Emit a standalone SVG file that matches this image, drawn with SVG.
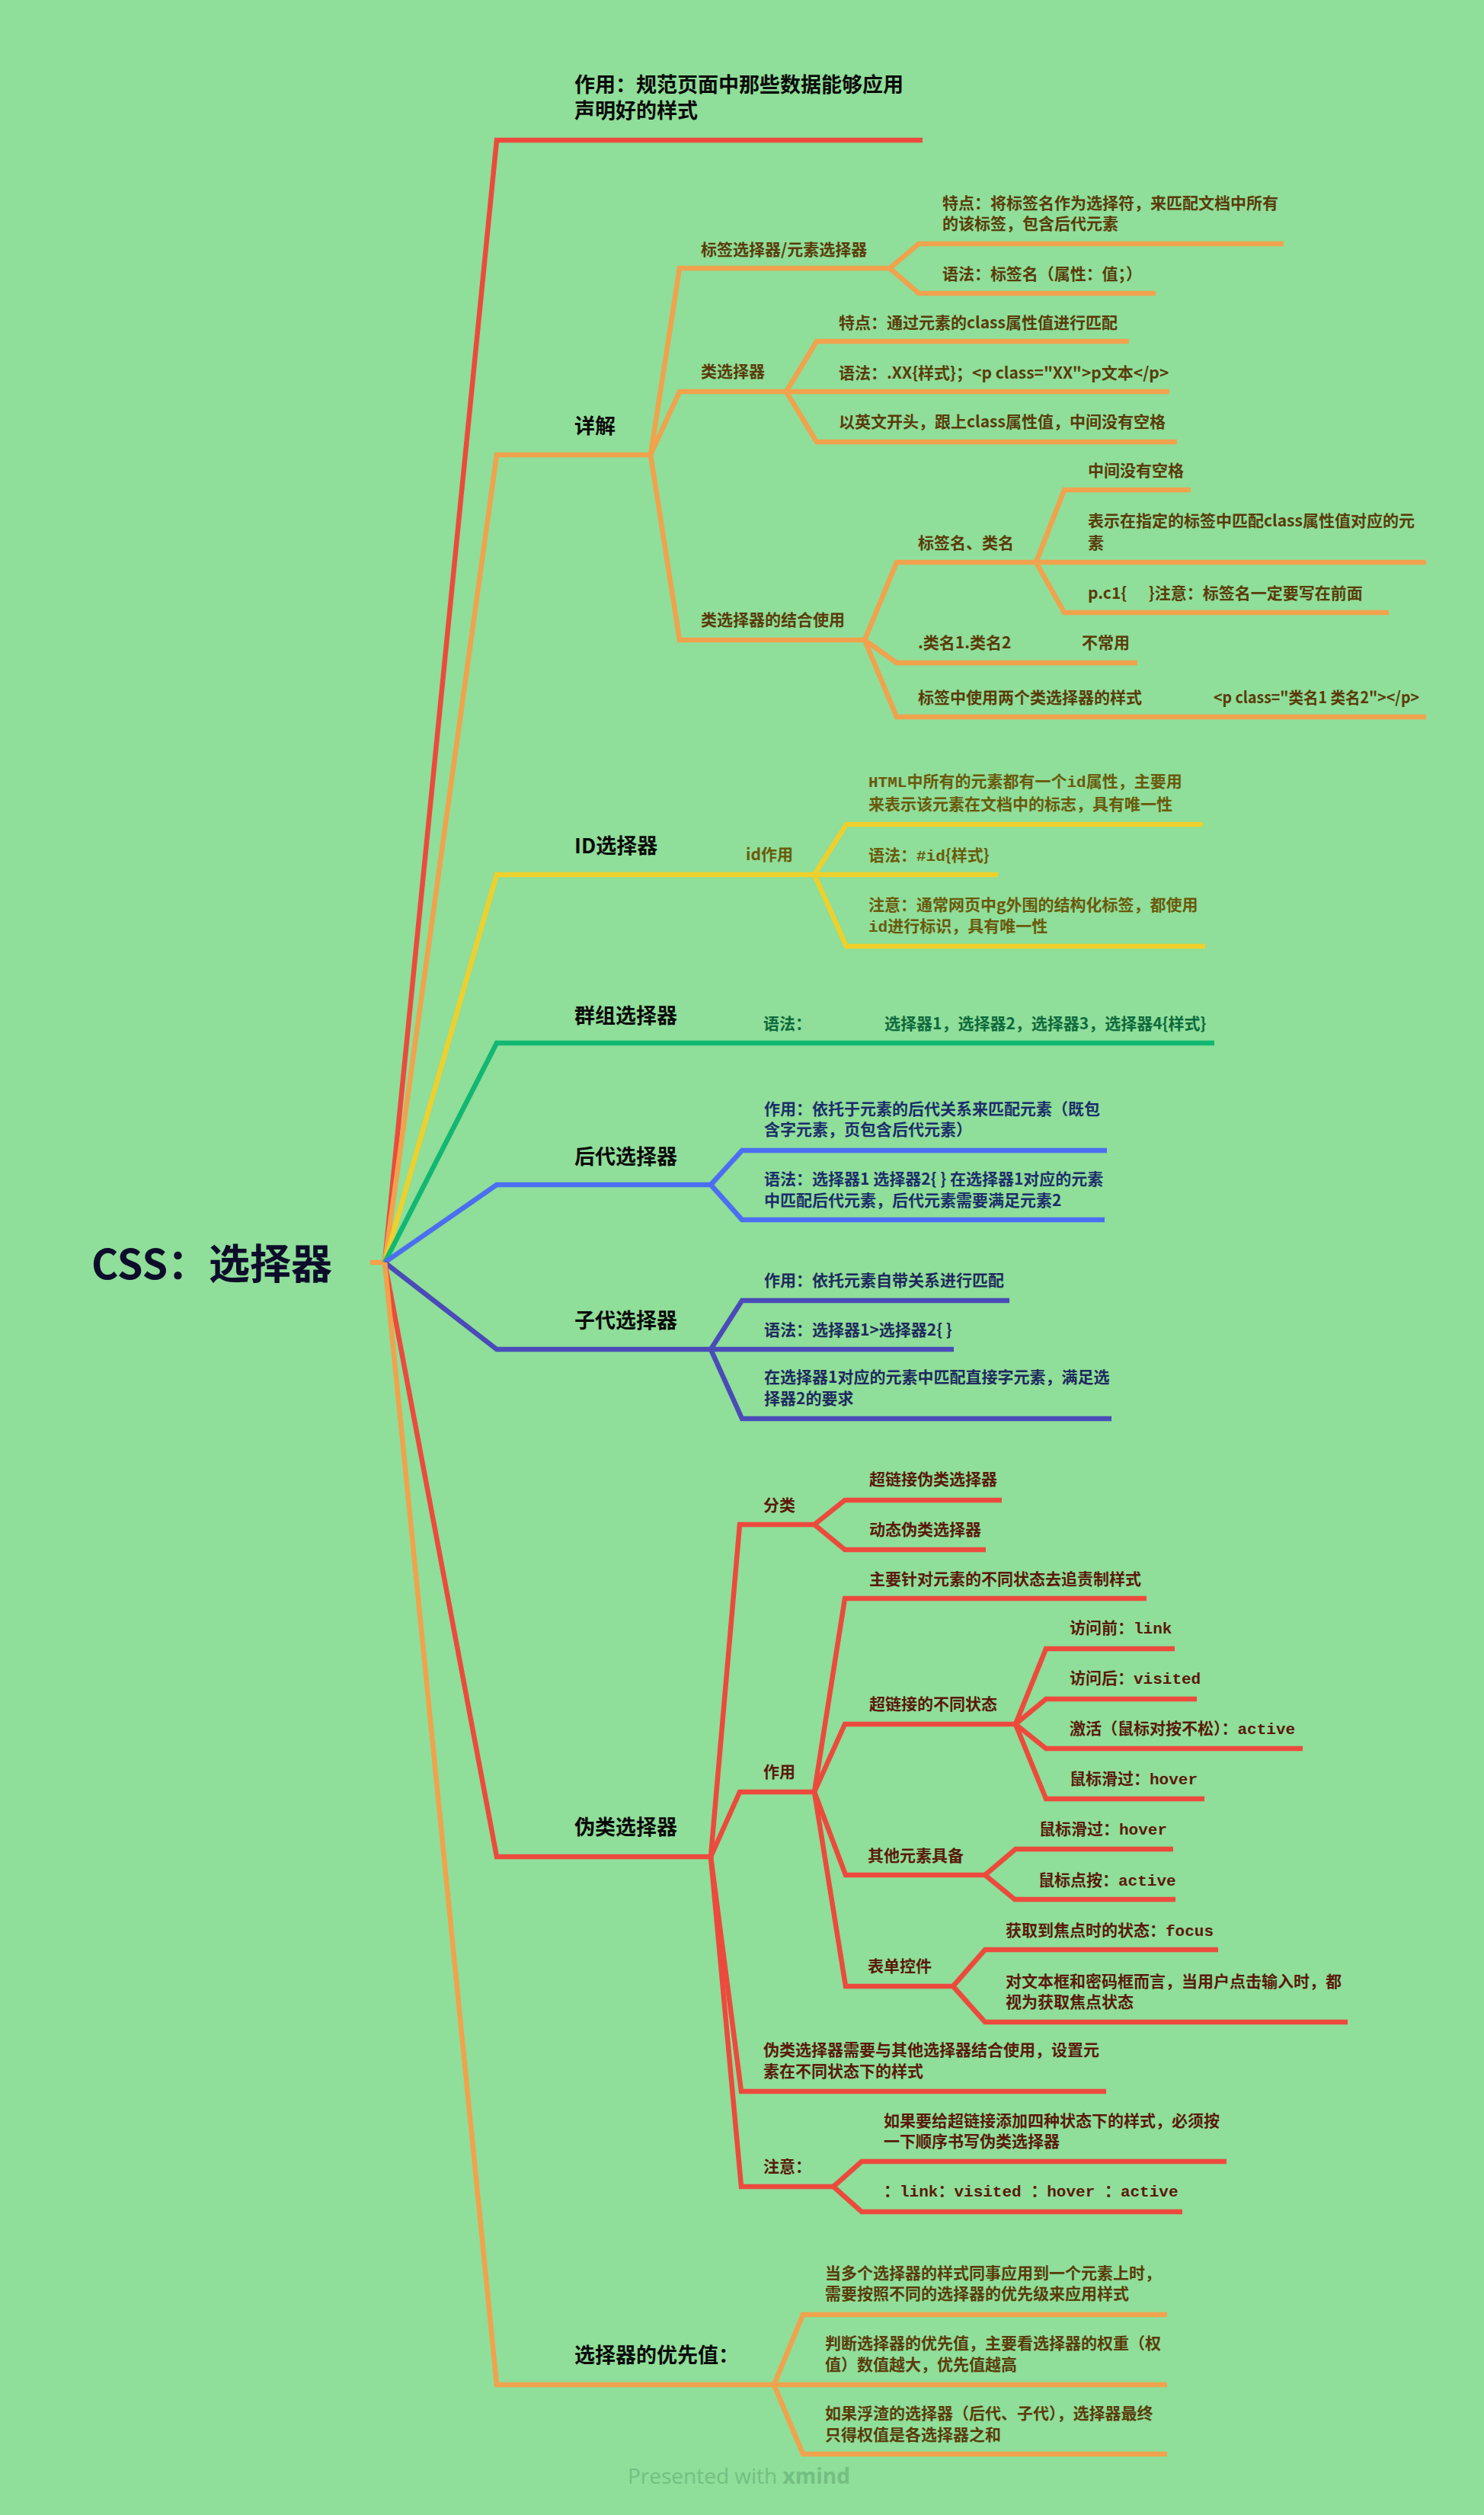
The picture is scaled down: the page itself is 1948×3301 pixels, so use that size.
<svg xmlns="http://www.w3.org/2000/svg" width="1948" height="3301" viewBox="0 0 1948 3301">
<style>
text{font-family:"Noto Sans CJK SC","Noto Sans",sans-serif;font-weight:bold;white-space:pre}
.root{font-size:54px;fill:#0d0d2b}
.m{font-size:27px;fill:#0a0a0a}
.s{font-size:21px}
.o{fill:#5a3c0a}.y{fill:#6a5a0c}.g{fill:#0d6a3c}.b{fill:#1c2e6b}.i{fill:#1e2a5e}.r{fill:#5a1a0a}
.mono{font-family:"Liberation Mono",monospace;font-weight:bold}
.c{fill:none;stroke-width:6.5;stroke-linejoin:miter}
.cr{stroke:#ec4a3d}.co{stroke:#f1a24d}.cy{stroke:#efd02b}.cg{stroke:#12b872}.cb{stroke:#4b6ef2}.ci{stroke:#4a4bb9}
.wm{font-family:"Open Sans","Noto Sans",sans-serif;font-size:28px;fill:#74c083;font-weight:normal}
</style>
<rect width="1948" height="3301" fill="#8fde99"/>
<g id="connectors">
<path class="c co" d="M486 1657 L505 1657"/>
<path class="c cr" d="M505 1657 L652 184 L1211 184"/>
<path class="c co" d="M505 1657 L652 597 L854 597"/>
<path class="c cy" d="M505 1657 L652 1148 L1069 1148"/>
<path class="c cg" d="M505 1657 L652 1369 L1594 1369"/>
<path class="c cb" d="M505 1657 L652 1555 L933 1555"/>
<path class="c ci" d="M505 1657 L652 1771 L933 1771"/>
<path class="c cr" d="M505 1657 L652 2437 L933 2437"/>
<path class="c co" d="M505 1657 L652 3130 L1016 3130"/>
<!-- 详解 -->
<path class="c co" d="M854 597 L892 352 L1168 352"/>
<path class="c co" d="M1168 352 L1206 320 L1685 320"/>
<path class="c co" d="M1168 352 L1206 385 L1517 385"/>
<path class="c co" d="M854 597 L892 514 L1032 514"/>
<path class="c co" d="M1032 514 L1072 448 L1482 448"/>
<path class="c co" d="M1032 514 L1535 514"/>
<path class="c co" d="M1032 514 L1072 580 L1545 580"/>
<path class="c co" d="M854 597 L892 840 L1135 840"/>
<path class="c co" d="M1135 840 L1177 738 L1360 738"/>
<path class="c co" d="M1360 738 L1397 643 L1563 643"/>
<path class="c co" d="M1360 738 L1872 738"/>
<path class="c co" d="M1360 738 L1397 804 L1823 804"/>
<path class="c co" d="M1135 840 L1177 870 L1493 870"/>
<path class="c co" d="M1135 840 L1177 941 L1872 941"/>
<!-- ID -->
<path class="c cy" d="M1069 1148 L1111 1082 L1579 1082"/>
<path class="c cy" d="M1069 1148 L1310 1148"/>
<path class="c cy" d="M1069 1148 L1111 1242 L1582 1242"/>
<!-- 后代 -->
<path class="c cb" d="M933 1555 L974 1510 L1453 1510"/>
<path class="c cb" d="M933 1555 L974 1601 L1450 1601"/>
<!-- 子代 -->
<path class="c ci" d="M933 1771 L974 1707 L1325 1707"/>
<path class="c ci" d="M933 1771 L1252 1771"/>
<path class="c ci" d="M933 1771 L974 1862 L1459 1862"/>
<!-- 伪类 -->
<path class="c cr" d="M933 2437 L971 2001 L1069 2001"/>
<path class="c cr" d="M1069 2001 L1109 1969 L1315 1969"/>
<path class="c cr" d="M1069 2001 L1109 2034 L1294 2034"/>
<path class="c cr" d="M933 2437 L971 2352 L1069 2352"/>
<path class="c cr" d="M1069 2352 L1109 2098 L1505 2098"/>
<path class="c cr" d="M1069 2352 L1109 2263 L1333 2263"/>
<path class="c cr" d="M1333 2263 L1373 2164 L1542 2164"/>
<path class="c cr" d="M1333 2263 L1373 2230 L1571 2230"/>
<path class="c cr" d="M1333 2263 L1373 2295 L1710 2295"/>
<path class="c cr" d="M1333 2263 L1373 2361 L1581 2361"/>
<path class="c cr" d="M1069 2352 L1110 2461 L1293 2461"/>
<path class="c cr" d="M1293 2461 L1333 2427 L1540 2427"/>
<path class="c cr" d="M1293 2461 L1332 2493 L1543 2493"/>
<path class="c cr" d="M1069 2352 L1110 2607 L1251 2607"/>
<path class="c cr" d="M1251 2607 L1293 2559 L1599 2559"/>
<path class="c cr" d="M1251 2607 L1293 2654 L1769 2654"/>
<path class="c cr" d="M933 2437 L973 2745 L1452 2745"/>
<path class="c cr" d="M933 2437 L973 2870 L1094 2870"/>
<path class="c cr" d="M1094 2870 L1131 2837 L1610 2837"/>
<path class="c cr" d="M1094 2870 L1131 2903 L1552 2903"/>
<!-- 优先值 -->
<path class="c co" d="M1016 3130 L1054 3038 L1532 3038"/>
<path class="c co" d="M1016 3130 L1532 3130"/>
<path class="c co" d="M1016 3130 L1054 3221 L1532 3221"/>
</g>
<g id="root"><text class="root" x="120" y="1679">CSS：选择器</text></g>
<g id="n-zuoyong"><text class="m" x="754" y="121">作用：规范页面中那些数据能够应用</text><text class="m" x="754" y="155">声明好的样式</text></g>
<g id="n-xiangjie"><text class="m" x="754" y="569">详解</text></g>
<g id="n-biaoqian"><text class="s o" x="920" y="335">标签选择器/元素选择器</text></g>
<g id="n-biaoqian-1"><text class="s o" x="1237" y="274">特点：将标签名作为选择符，来匹配文档中所有</text><text class="s o" x="1237" y="301">的该标签，包含后代元素</text></g>
<g id="n-biaoqian-2"><text class="s o" x="1237" y="367" textLength="262" lengthAdjust="spacing">语法：标签名（属性：值；）</text></g>
<g id="n-lei"><text class="s o" x="920" y="495">类选择器</text></g>
<g id="n-lei-1"><text class="s o" x="1101" y="431">特点：通过元素的class属性值进行匹配</text></g>
<g id="n-lei-2"><text class="s o" x="1101" y="497">语法：.XX{样式}；&lt;p class="XX"&gt;p文本&lt;/p&gt;</text></g>
<g id="n-lei-3"><text class="s o" x="1101" y="561">以英文开头，跟上class属性值，中间没有空格</text></g>
<g id="n-jiehe"><text class="s o" x="920" y="821">类选择器的结合使用</text></g>
<g id="n-jiehe-1"><text class="s o" x="1205" y="720">标签名、类名</text></g>
<g id="n-jiehe-1a"><text class="s o" x="1428" y="625">中间没有空格</text></g>
<g id="n-jiehe-1b"><text class="s o" x="1428" y="691">表示在指定的标签中匹配class属性值对应的元</text><text class="s o" x="1428" y="720">素</text></g>
<g id="n-jiehe-1c"><text class="s o" x="1428" y="786">p.c1{      }注意：标签名一定要写在前面</text></g>
<g id="n-jiehe-2"><text class="s o" x="1205" y="851">.类名1.类名2</text><text class="s o" x="1420" y="851">不常用</text></g>
<g id="n-jiehe-3"><text class="s o" x="1205" y="923">标签中使用两个类选择器的样式</text><text class="s o" x="1593" y="923" textLength="270" lengthAdjust="spacingAndGlyphs">&lt;p class="类名1 类名2"&gt;&lt;/p&gt;</text></g>
<g id="n-id"><text class="m" x="754" y="1120">ID选择器</text></g>
<g id="n-id-zy"><text class="s y" x="979" y="1129">id作用</text></g>
<g id="n-id-1"><text class="s y" x="1140" y="1033"><tspan class="mono">HTML</tspan>中所有的元素都有一个<tspan class="mono">id</tspan>属性，主要用</text><text class="s y" x="1140" y="1063">来表示该元素在文档中的标志，具有唯一性</text></g>
<g id="n-id-2"><text class="s y" x="1140" y="1130">语法：<tspan class="mono">#id</tspan>{样式}</text></g>
<g id="n-id-3"><text class="s y" x="1140" y="1195">注意：通常网页中g外围的结构化标签，都使用</text><text class="s y" x="1140" y="1223"><tspan class="mono">id</tspan>进行标识，具有唯一性</text></g>
<g id="n-qunzu"><text class="m" x="754" y="1343">群组选择器</text></g>
<g id="n-qunzu-1"><text class="s g" x="1002" y="1351">语法：</text><text class="s g" x="1161" y="1351">选择器1，选择器2，选择器3，选择器4{样式}</text></g>
<g id="n-houdai"><text class="m" x="754" y="1528">后代选择器</text></g>
<g id="n-houdai-1"><text class="s b" x="1003" y="1463">作用：依托于元素的后代关系来匹配元素（既包</text><text class="s b" x="1003" y="1490">含字元素，页包含后代元素）</text></g>
<g id="n-houdai-2"><text class="s b" x="1003" y="1555">语法：选择器1 选择器2{ } 在选择器1对应的元素</text><text class="s b" x="1003" y="1583">中匹配后代元素，后代元素需要满足元素2</text></g>
<g id="n-zidai"><text class="m" x="754" y="1743">子代选择器</text></g>
<g id="n-zidai-1"><text class="s i" x="1003" y="1688">作用：依托元素自带关系进行匹配</text></g>
<g id="n-zidai-2"><text class="s i" x="1003" y="1753">语法：选择器1&gt;选择器2{ }</text></g>
<g id="n-zidai-3"><text class="s i" x="1003" y="1815">在选择器1对应的元素中匹配直接字元素，满足选</text><text class="s i" x="1003" y="1843">择器2的要求</text></g>
<g id="n-weilei"><text class="m" x="754" y="2408">伪类选择器</text></g>
<g id="n-fenlei"><text class="s r" x="1002" y="1983">分类</text></g>
<g id="n-fenlei-1"><text class="s r" x="1141" y="1949">超链接伪类选择器</text></g>
<g id="n-fenlei-2"><text class="s r" x="1141" y="2015">动态伪类选择器</text></g>
<g id="n-zy"><text class="s r" x="1002" y="2333">作用</text></g>
<g id="n-zy-1"><text class="s r" x="1141" y="2080">主要针对元素的不同状态去追责制样式</text></g>
<g id="n-zy-2"><text class="s r" x="1141" y="2244">超链接的不同状态</text></g>
<g id="n-zy-2a"><text class="s r" x="1404" y="2144">访问前：<tspan class="mono">link</tspan></text></g>
<g id="n-zy-2b"><text class="s r" x="1404" y="2210">访问后：<tspan class="mono">visited</tspan></text></g>
<g id="n-zy-2c"><text class="s r" x="1404" y="2276">激活（鼠标对按不松）：<tspan class="mono">active</tspan></text></g>
<g id="n-zy-2d"><text class="s r" x="1404" y="2342">鼠标滑过：<tspan class="mono">hover</tspan></text></g>
<g id="n-zy-3"><text class="s r" x="1139" y="2443">其他元素具备</text></g>
<g id="n-zy-3a"><text class="s r" x="1364" y="2408">鼠标滑过：<tspan class="mono">hover</tspan></text></g>
<g id="n-zy-3b"><text class="s r" x="1363" y="2475">鼠标点按：<tspan class="mono">active</tspan></text></g>
<g id="n-zy-4"><text class="s r" x="1139" y="2588">表单控件</text></g>
<g id="n-zy-4a"><text class="s r" x="1320" y="2541">获取到焦点时的状态：<tspan class="mono">focus</tspan></text></g>
<g id="n-zy-4b"><text class="s r" x="1320" y="2608">对文本框和密码框而言，当用户点击输入时，都</text><text class="s r" x="1320" y="2635">视为获取焦点状态</text></g>
<g id="n-jiehe-wl"><text class="s r" x="1002" y="2698">伪类选择器需要与其他选择器结合使用，设置元</text><text class="s r" x="1002" y="2726">素在不同状态下的样式</text></g>
<g id="n-zhuyi"><text class="s r" x="1002" y="2851">注意：</text></g>
<g id="n-zhuyi-1"><text class="s r" x="1160" y="2791">如果要给超链接添加四种状态下的样式，必须按</text><text class="s r" x="1160" y="2818">一下顺序书写伪类选择器</text></g>
<g id="n-zhuyi-2"><text class="s r" x="1160" y="2883">：<tspan class="mono">link</tspan>：<tspan class="mono">visited </tspan>：<tspan class="mono">hover </tspan>：<tspan class="mono">active</tspan></text></g>
<g id="n-youxian"><text class="m" x="754" y="3101">选择器的优先值：</text></g>
<g id="n-youxian-1"><text class="s o" x="1083" y="2991">当多个选择器的样式同事应用到一个元素上时，</text><text class="s o" x="1083" y="3018">需要按照不同的选择器的优先级来应用样式</text></g>
<g id="n-youxian-2"><text class="s o" x="1083" y="3083">判断选择器的优先值，主要看选择器的权重（权</text><text class="s o" x="1083" y="3111">值）数值越大，优先值越高</text></g>
<g id="n-youxian-3"><text class="s o" x="1083" y="3175">如果浮渣的选择器（后代、子代），选择器最终</text><text class="s o" x="1083" y="3203">只得权值是各选择器之和</text></g>
<g id="watermark"><text class="wm" x="824" y="3260">Presented with <tspan font-weight="bold">xmind</tspan></text></g>
</svg>
